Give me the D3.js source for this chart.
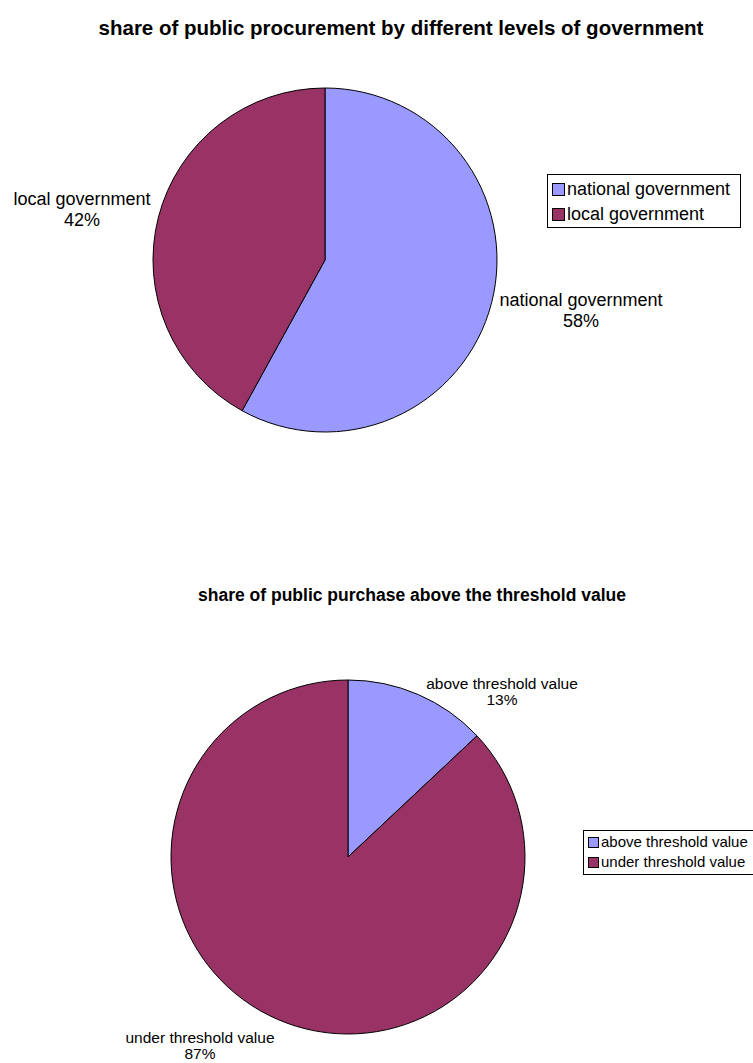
<!DOCTYPE html>
<html>
<head>
<meta charset="utf-8">
<script src="https://cdn.jsdelivr.net/npm/d3@7"></script>
<style>
  body { margin: 0; background: #fff; }
  svg text { font-family: Arial, "Liberation Sans", sans-serif; fill: #000; }
</style>
</head>
<body>
<svg id="chart" width="753" height="1063"></svg>
<script>
// Datos de los dos gráficos
const govLevels = ['national government', 'local government'];
const govShares = [58, 42];
const thresholdCats = ['above threshold value', 'under threshold value'];
const thresholdShares = [13, 87];
const sliceColors = ['#9999ff', '#993366'];

const svg = d3.select('#chart');

// Función para dibujar una tarta con título, etiquetas y leyenda
function drawPie(opts) {
    const data = opts.cats.map((c, i) => ({ name: c, value: opts.values[i] }));
    const color = d3.scaleOrdinal().domain(opts.cats).range(sliceColors);

    const pie = d3.pie().sort(null).value(d => d.value);
    const arc = d3.arc().innerRadius(0).outerRadius(opts.r);

    // Título
    svg.append('text')
        .attr('x', opts.titleX)
        .attr('y', opts.titleY)
        .attr('text-anchor', 'middle')
        .style('font-weight', 'bold')
        .style('font-size', opts.titleSize + 'px')
        .text(opts.title);

    const g = svg.append('g')
        .attr('transform', `translate(${opts.cx},${opts.cy})`);

    g.selectAll('path')
        .data(pie(data))
        .join('path')
        .attr('d', arc)
        .attr('fill', d => color(d.data.name))
        .attr('stroke', '#000')
        .attr('stroke-width', 1);

    // Etiquetas de las porciones
    opts.labels.forEach((lab, i) => {
        const t = svg.append('text')
            .attr('text-anchor', 'middle')
            .style('font-size', opts.labelSize + 'px');
        t.append('tspan').attr('x', lab.x).attr('y', lab.y).text(data[i].name);
        t.append('tspan').attr('x', lab.x).attr('y', lab.y + opts.labelGap)
            .text(d3.format('.0f')(data[i].value) + '%');
    });

    // Leyenda
    const lg = svg.append('g').attr('transform', `translate(${opts.legend.x},${opts.legend.y})`);
    lg.append('rect')
        .attr('x', 0.5).attr('y', 0.5)
        .attr('width', opts.legend.w).attr('height', opts.legend.h)
        .attr('fill', '#fff').attr('stroke', '#000').attr('stroke-width', 1);
    const sw = opts.legend.sw;
    opts.cats.forEach((c, i) => {
        const yy = opts.legend.pad + i * opts.legend.step;
        lg.append('rect')
            .attr('x', 5.5).attr('y', yy - sw / 2 + 0.5)
            .attr('width', sw).attr('height', sw)
            .attr('fill', color(c)).attr('stroke', '#000').attr('stroke-width', 1);
        lg.append('text')
            .attr('x', 8 + sw)
            .attr('y', yy)
            .attr('dy', '0.35em')
            .style('font-size', opts.legend.size + 'px')
            .text(c);
    });
}

drawPie({
    cats: govLevels, values: govShares,
    cx: 325, cy: 260, r: 172,
    title: 'share of public procurement by different levels of government',
    titleX: 401, titleY: 35, titleSize: 20.5,
    labelSize: 18, labelGap: 21,
    labels: [{ x: 581, y: 306 }, { x: 82, y: 205 }],
    legend: { x: 547, y: 174, w: 193, h: 53, pad: 15, step: 25, sw: 12, size: 18 }
});

drawPie({
    cats: thresholdCats, values: thresholdShares,
    cx: 348, cy: 857, r: 177,
    title: 'share of public purchase above the threshold value',
    titleX: 412, titleY: 601, titleSize: 17.5,
    labelSize: 15.5, labelGap: 16,
    labels: [{ x: 502, y: 689 }, { x: 200, y: 1043 }],
    legend: { x: 583, y: 830, w: 180, h: 44, pad: 12, step: 20, sw: 10, size: 15 }
});
</script>
</body>
</html>
